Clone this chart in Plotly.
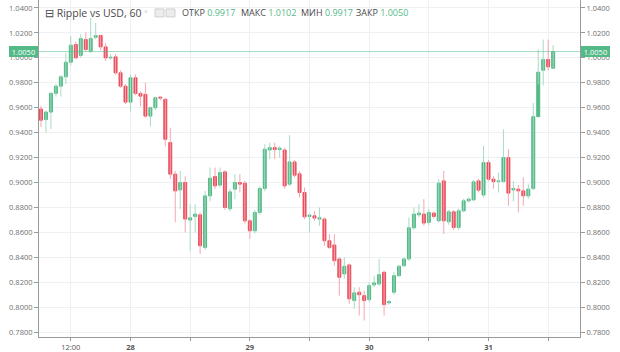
import pandas as pd
import plotly.graph_objects as go

# ---- data (hourly candles, Ripple vs USD) ----
start_time = "2018-01-27 06:00"
opens = [0.9590, 0.9505, 0.9565, 0.9715, 0.9773, 0.9848, 0.9965, 1.0107, 1.0019, 1.0147,
         1.0053, 1.0165, 1.0179, 1.0088, 1.0000, 1.0008, 0.9880, 0.9773, 0.9645, 0.9840,
         0.9715, 0.9707, 0.9533, 0.9600, 0.9685, 0.9667, 0.9320, 0.9067, 0.8941, 0.9000,
         0.8699, 0.8728, 0.8741, 0.8480, 0.8893, 0.9048, 0.8979, 0.9085, 0.8790, 0.8947,
         0.9000, 0.8995, 0.8693, 0.8613, 0.8760, 0.8952, 0.9261, 0.9280, 0.9265, 0.9261,
         0.8987, 0.9165, 0.9070, 0.8920, 0.8728, 0.8733, 0.8707, 0.8707, 0.8533, 0.8499,
         0.8387, 0.8267, 0.8339, 0.8053, 0.8120, 0.8093, 0.8061, 0.8179, 0.8187, 0.8280,
         0.8035, 0.8120, 0.8253, 0.8333, 0.8387, 0.8637, 0.8741, 0.8747, 0.8680, 0.8755,
         0.8693, 0.9013, 0.8685, 0.8765, 0.8640, 0.8773, 0.8853, 0.8861, 0.9013, 0.8900,
         0.9160, 0.9027, 0.9008, 0.9008, 0.9200, 0.8941, 0.8947, 0.8933, 0.8893, 0.8952,
         0.9528, 0.9901, 0.9987, 0.9917]
highs = [0.9615, 0.9580, 0.9725, 0.9790, 0.9860, 1.0040, 1.0175, 1.0130, 1.0190, 1.0205,
         1.0320, 1.0280, 1.0185, 1.0120, 1.0030, 1.0030, 0.9900, 0.9790, 0.9867, 0.9867,
         0.9730, 0.9800, 0.9610, 0.9690, 0.9690, 0.9680, 0.9440, 0.9093, 0.9093, 0.9050,
         0.8827, 0.8827, 0.8760, 0.8933, 0.9120, 0.9120, 0.9120, 0.9100, 0.8950, 0.9067,
         0.9067, 0.9013, 0.8707, 0.8780, 0.8970, 0.9307, 0.9320, 0.9320, 0.9290, 0.9280,
         0.9380, 0.9180, 0.9090, 0.8960, 0.8750, 0.8773, 0.8800, 0.8720, 0.8587, 0.8587,
         0.8400, 0.8400, 0.8350, 0.8160, 0.8160, 0.8133, 0.8200, 0.8253, 0.8387, 0.8293,
         0.8060, 0.8280, 0.8340, 0.8400, 0.8720, 0.8800, 0.8827, 0.8867, 0.8787, 0.8770,
         0.9027, 0.9093, 0.8780, 0.8780, 0.8790, 0.8870, 0.8880, 0.9020, 0.9030, 0.9293,
         0.9180, 0.9050, 0.9080, 0.9427, 0.9267, 0.9013, 0.8980, 0.9040, 0.8990, 0.9640,
         1.0067, 1.0147, 1.0147, 1.0102]
lows = [0.9445, 0.9400, 0.9430, 0.9690, 0.9690, 0.9790, 0.9940, 0.9990, 1.0000, 1.0050,
        1.0040, 1.0150, 1.0060, 0.9975, 0.9985, 0.9865, 0.9760, 0.9630, 0.9570, 0.9700,
        0.9610, 0.9520, 0.9450, 0.9580, 0.9660, 0.9290, 0.9030, 0.8680, 0.8787, 0.8600,
        0.8453, 0.8600, 0.8427, 0.8460, 0.8850, 0.8950, 0.8960, 0.8780, 0.8770, 0.8867,
        0.8920, 0.8670, 0.8547, 0.8590, 0.8740, 0.8930, 0.9187, 0.9187, 0.9200, 0.8950,
        0.8970, 0.9040, 0.8880, 0.8707, 0.8600, 0.8693, 0.8653, 0.8493, 0.8467, 0.8333,
        0.8093, 0.8227, 0.8027, 0.7987, 0.7933, 0.7893, 0.8040, 0.8160, 0.8170, 0.7933,
        0.8020, 0.8100, 0.8240, 0.8320, 0.8370, 0.8620, 0.8720, 0.8653, 0.8660, 0.8710,
        0.8680, 0.8587, 0.8660, 0.8620, 0.8620, 0.8760, 0.8840, 0.8850, 0.8920, 0.8880,
        0.9010, 0.8950, 0.8920, 0.9000, 0.8813, 0.8850, 0.8760, 0.8813, 0.8870, 0.8940,
        0.9787, 0.9780, 0.9900, 0.9917]
closes = [0.9500, 0.9565, 0.9715, 0.9773, 0.9848, 0.9965, 1.0101, 1.0000, 1.0155, 1.0067,
          1.0155, 1.0178, 1.0088, 1.0000, 1.0005, 0.9880, 0.9773, 0.9645, 0.9840, 0.9715,
          0.9693, 0.9533, 0.9600, 0.9680, 0.9677, 0.9347, 0.9067, 0.8933, 0.9000, 0.8707,
          0.8717, 0.8747, 0.8493, 0.8893, 0.9035, 0.8973, 0.9080, 0.8800, 0.8925, 0.9000,
          0.8987, 0.8693, 0.8613, 0.8760, 0.8952, 0.9267, 0.9280, 0.9265, 0.9275, 0.8973,
          0.9165, 0.9059, 0.8920, 0.8725, 0.8739, 0.8715, 0.8717, 0.8533, 0.8480, 0.8373,
          0.8240, 0.8328, 0.8067, 0.8115, 0.8100, 0.8053, 0.8173, 0.8195, 0.8261, 0.8021,
          0.8045, 0.8253, 0.8328, 0.8387, 0.8637, 0.8747, 0.8755, 0.8675, 0.8760, 0.8728,
          0.8995, 0.8693, 0.8765, 0.8640, 0.8773, 0.8853, 0.8867, 0.9005, 0.8939, 0.9160,
          0.9027, 0.9008, 0.9013, 0.9200, 0.8915, 0.8952, 0.8933, 0.8893, 0.8947, 0.9528,
          0.9885, 0.9987, 0.9928, 1.0050]

y_ticks = [0.78, 0.80, 0.82, 0.84, 0.86, 0.88, 0.90, 0.92, 0.94, 0.96, 0.98, 1.00, 1.02, 1.04]
x_tick_times = ["2018-01-27 12:00", "2018-01-28 00:00", "2018-01-28 12:00", "2018-01-29 00:00",
                "2018-01-29 12:00", "2018-01-30 00:00", "2018-01-30 12:00", "2018-01-31 00:00",
                "2018-01-31 12:00"]
x_tick_text = ["12:00", "<b>28</b>", "", "<b>29</b>", "", "<b>30</b>", "", "<b>31</b>", ""]
title_text = "⊟ Ripple vs USD, 60"
ohlc_labels = ["ОТКР", "МАКС", "МИН", "ЗАКР"]

# ---- styling ----
UP = "#53b987"
DOWN = "#eb4d5c"
UP_WICK = "#a6dcc2"
DOWN_WICK = "#f4a7ae"
GRID = "#eef0f3"
AXIS = "#9a9a9a"
TICKC = "#6f6f6f"
FONT = "Open Sans"

times = pd.date_range(start_time, periods=len(opens), freq="h")
up = [c >= o for o, c in zip(opens, closes)]

fig = go.Figure()

# wicks
for flag, col in ((True, UP_WICK), (False, DOWN_WICK)):
    wx, wy = [], []
    for t, h, l, u in zip(times, highs, lows, up):
        if u == flag:
            wx += [t, t, None]
            wy += [l, h, None]
    fig.add_trace(go.Scatter(x=wx, y=wy, mode="lines", line=dict(color=col, width=1),
                             hoverinfo="skip", showlegend=False))

# bodies
fig.add_trace(go.Bar(
    x=times,
    y=[abs(c - o) for o, c in zip(opens, closes)],
    base=[min(o, c) for o, c in zip(opens, closes)],
    width=0.6 * 3600000,
    marker=dict(color=[UP if u else DOWN for u in up],
                line=dict(color=[UP if u else DOWN for u in up], width=1)),
    hoverinfo="skip", showlegend=False,
))

x0 = times[0] - pd.Timedelta(minutes=24)
x1 = times[0] + pd.Timedelta(hours=108.4)
last = closes[-1]

# last price line (on right axis)
fig.add_trace(go.Scatter(x=[x0, x1], y=[last, last], mode="lines", yaxis="y2",
                         line=dict(color="rgba(83,185,135,0.55)", width=1),
                         hoverinfo="skip", showlegend=False))

yr = [0.7761, 1.0464]
axis_common = dict(range=yr, tickvals=y_ticks, tickformat=".4f", ticks="outside",
                   ticklen=4, tickcolor=AXIS, showline=True, linecolor=AXIS, linewidth=1,
                   tickfont=dict(size=7.5, color=TICKC, family=FONT), zeroline=False)

fig.update_layout(
    width=620, height=352,
    margin=dict(l=39, r=40, t=0, b=13),
    paper_bgcolor="white", plot_bgcolor="white",
    barmode="overlay", hovermode=False, showlegend=False,
    font=dict(family=FONT),
    xaxis=dict(type="date", range=[x0, x1], tickvals=x_tick_times, ticktext=x_tick_text,
               showgrid=True, gridcolor=GRID, gridwidth=1, ticks="outside", ticklen=3,
               tickcolor=AXIS, showline=True, linecolor=AXIS, linewidth=1,
               tickfont=dict(size=7.5, color="#555555", family=FONT), zeroline=False,
               rangeslider=dict(visible=False)),
    yaxis=dict(side="left", showgrid=True, gridcolor=GRID, gridwidth=1, **axis_common),
    yaxis2=dict(side="right", overlaying="y", showgrid=False, **axis_common),
)

# price labels on both axes
for xp, anchor, shift in ((0, "right", -1), (1, "left", 1)):
    fig.add_annotation(x=xp, xref="paper", y=last, yref="y", xanchor=anchor, xshift=shift,
                       text=f"{last:.4f}", showarrow=False, bgcolor=UP, bordercolor=UP,
                       borderwidth=0, borderpad=1, width=27, height=9,
                       font=dict(size=7.5, color="white", family=FONT))

PLOT_W = 620 - 39 - 40
PLOT_H = 352 - 13


def px_x(px):
    return (px - 39) / PLOT_W


def px_y(py):
    return 1 - py / PLOT_H


# title line
fig.add_annotation(x=px_x(43), y=px_y(13), xref="paper", yref="paper", xanchor="left",
                   yanchor="middle", showarrow=False, text=title_text,
                   font=dict(size=10.5, color="#4a4a4a", family=FONT))
fig.add_annotation(x=px_x(142), y=px_y(12), xref="paper", yref="paper", xanchor="left",
                   yanchor="middle", showarrow=False, text="˅",
                   font=dict(size=7, color="#999999", family=FONT))
for a, b in ((155, 164), (166, 175)):
    fig.add_shape(type="rect", xref="paper", yref="paper", x0=px_x(a), x1=px_x(b),
                  y0=px_y(17), y1=px_y(9), line=dict(color="#cfcfcf", width=1),
                  fillcolor="#ececec")

ohlc_vals = [opens[-1], highs[-1], lows[-1], closes[-1]]
ohlc_x = [180, 239, 299, 354]
for lab, val, xpos in zip(ohlc_labels, ohlc_vals, ohlc_x):
    fig.add_annotation(x=px_x(xpos), y=px_y(13), xref="paper", yref="paper",
                       xanchor="left", yanchor="middle", showarrow=False,
                       text=f"{lab} <span style='color:{UP}'>{val:.4f}</span>",
                       font=dict(size=9, color="#4a4a4a", family=FONT))

fig.write_html("out.html")
